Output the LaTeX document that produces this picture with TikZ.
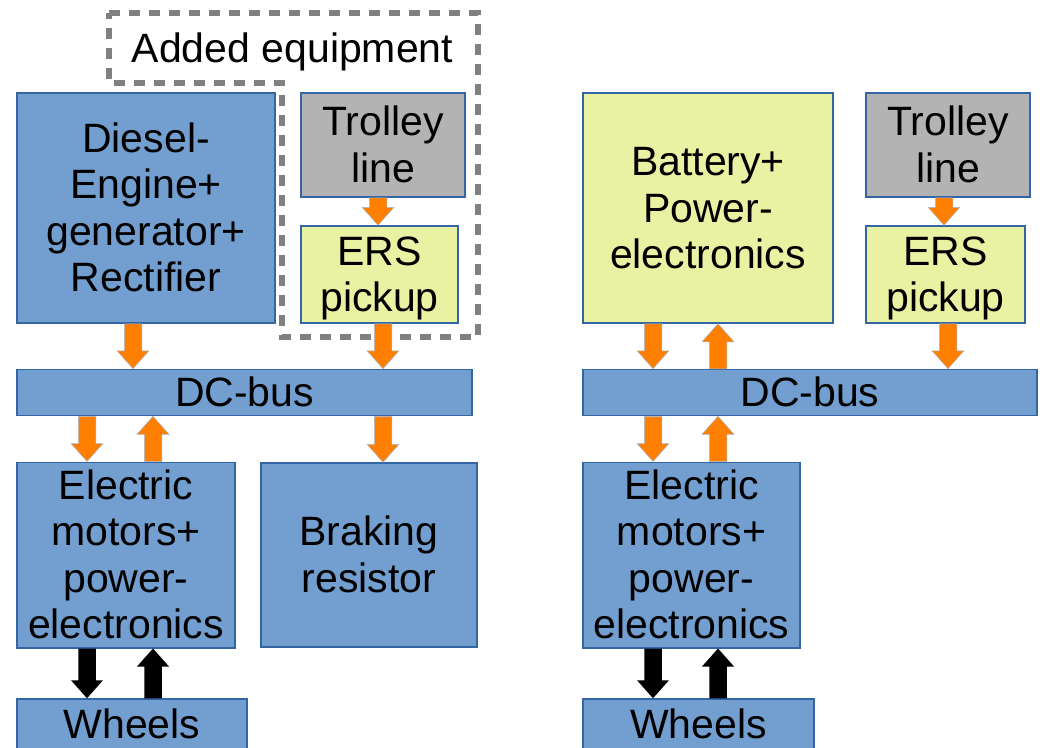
\documentclass[tikz,border=0pt]{standalone}
\usepackage{fontspec}
\setmainfont{Liberation Sans}
\usetikzlibrary{calc}
\definecolor{boxblue}{HTML}{729FCF}
\definecolor{edgeblue}{HTML}{3465A4}
\definecolor{ersyellow}{HTML}{E8F2A2}
\definecolor{trolleygray}{HTML}{B3B3B3}
\definecolor{arroworange}{HTML}{FF8000}
\definecolor{dashgray}{HTML}{808080}
\newcommand\ls{\rule[-9pt]{0pt}{46pt}}
\begin{document}
\begin{tikzpicture}[x=1pt,y=-1pt,
  box/.style={draw=edgeblue, line width=1.5pt, inner sep=0pt, align=center,
    font=\fontsize{41}{46.5}\selectfont},
  bluebox/.style={box, fill=boxblue},
  yellowbox/.style={box, fill=ersyellow},
  graybox/.style={box, fill=trolleygray},
  blockarrow/.style={fill=#1, to path={
    let \p1=(\tikztostart), \p2=(\tikztotarget), \n1={sign(\y2-\y1)} in
    ({\x1-8.75pt},\y1) -- ({\x1-8.75pt},{\y2-(\n1)*18pt}) -- ({\x1-16pt},{\y2-(\n1)*18pt})
    -- (\x2,\y2) -- ({\x1+16pt},{\y2-(\n1)*18pt}) -- ({\x1+8.75pt},{\y2-(\n1)*18pt})
    -- ({\x1+8.75pt},\y1) -- cycle}},
  orangearrow/.style={blockarrow=arroworange, draw=edgeblue!45!white, line width=0.5pt},
  blackarrow/.style={blockarrow=black, draw=none},
  dashedframe/.style={draw=dashgray, line width=5.5pt, dash pattern=on 11pt off 9pt}
]
\clip (0,0) rectangle (1040,747);
\fill[white] (0,0) rectangle (1040,747);

% ---------- left system ----------
\node[bluebox, minimum width=258pt, minimum height=230pt] (diesel) at (146,208)
  {\ls Diesel-\\Engine+\\generator+\\Rectifier\ls};
\node[graybox, minimum width=164pt, minimum height=104pt] (trolL) at (383,145)
  {\ls Trolley\\line\ls};
\node[yellowbox, minimum width=157pt, minimum height=97pt] (ersL) at (379.5,274.5)
  {\ls ERS\\pickup\ls};
\node[bluebox, minimum width=455pt, minimum height=45pt] (dcL) at (244.5,392.5)
  {\ls DC-bus};
\node[bluebox, minimum width=218pt, minimum height=184pt] (emL) at (126,555)
  {\ls Electric\\motors+\\power-\\electronics\ls};
\node[bluebox, minimum width=216pt, minimum height=184pt] (brake) at (369,555)
  {\ls Braking\\resistor\ls};
\node[bluebox, minimum width=230pt, minimum height=51pt] (wheelsL) at (132,724.5)
  {\ls Wheels};

\draw[dashedframe] (109,13) -- (478,13) -- (478,337) -- (282,337) -- (282,83) -- (109,83) -- cycle;
\node[font=\fontsize{41}{46.5}\selectfont, anchor=base, inner sep=0pt] (added) at (292.5,62)
  {Added equipment};

\path[orangearrow] ([xshift=-5pt]trolL.south) to ([xshift=-5pt]trolL.south |- ersL.north);
\path[orangearrow] ([xshift=-13pt]diesel.south) to ([xshift=-13pt]diesel.south |- dcL.north);
\path[orangearrow] ([xshift=3.5pt]ersL.south) to ([xshift=3.5pt]ersL.south |- dcL.north);
\path[orangearrow] ([xshift=-39pt]emL.north |- dcL.south) to ([xshift=-39pt]emL.north);
\path[orangearrow] ([xshift=27pt]emL.north) to ([xshift=27pt]emL.north |- dcL.south);
\path[orangearrow] ([xshift=14pt]brake.north |- dcL.south) to ([xshift=14pt]brake.north);
\path[blackarrow] ([xshift=-39pt]emL.south) to ([xshift=-39pt]emL.south |- wheelsL.north);
\path[blackarrow] ([xshift=27pt]emL.south |- wheelsL.north) to ([xshift=27pt]emL.south);

% ---------- right system ----------
\node[yellowbox, minimum width=250pt, minimum height=230pt] (batt) at (708,208)
  {\ls Battery+\\Power-\\electronics\ls};
\node[graybox, minimum width=164pt, minimum height=104pt] (trolR) at (948,145)
  {\ls Trolley\\line\ls};
\node[yellowbox, minimum width=159pt, minimum height=97pt] (ersR) at (945.5,274.5)
  {\ls ERS\\pickup\ls};
\node[bluebox, minimum width=454pt, minimum height=45pt] (dcR) at (810,392.5)
  {\ls DC-bus};
\node[bluebox, minimum width=217pt, minimum height=184pt] (emR) at (691.5,555)
  {\ls Electric\\motors+\\power-\\electronics\ls};
\node[bluebox, minimum width=231pt, minimum height=51pt] (wheelsR) at (698.5,724.5)
  {\ls Wheels};

\path[orangearrow] ([xshift=-4pt]trolR.south) to ([xshift=-4pt]trolR.south |- ersR.north);
\path[orangearrow] ([xshift=-55pt]batt.south) to ([xshift=-55pt]batt.south |- dcR.north);
\path[orangearrow] ([xshift=10pt]batt.south |- dcR.north) to ([xshift=10pt]batt.south);
\path[orangearrow] ([xshift=2.5pt]ersR.south) to ([xshift=2.5pt]ersR.south |- dcR.north);
\path[orangearrow] ([xshift=-38.5pt]emR.north |- dcR.south) to ([xshift=-38.5pt]emR.north);
\path[orangearrow] ([xshift=26.5pt]emR.north) to ([xshift=26.5pt]emR.north |- dcR.south);
\path[blackarrow] ([xshift=-38.5pt]emR.south) to ([xshift=-38.5pt]emR.south |- wheelsR.north);
\path[blackarrow] ([xshift=26.5pt]emR.south |- wheelsR.north) to ([xshift=26.5pt]emR.south);
\end{tikzpicture}
\end{document}
